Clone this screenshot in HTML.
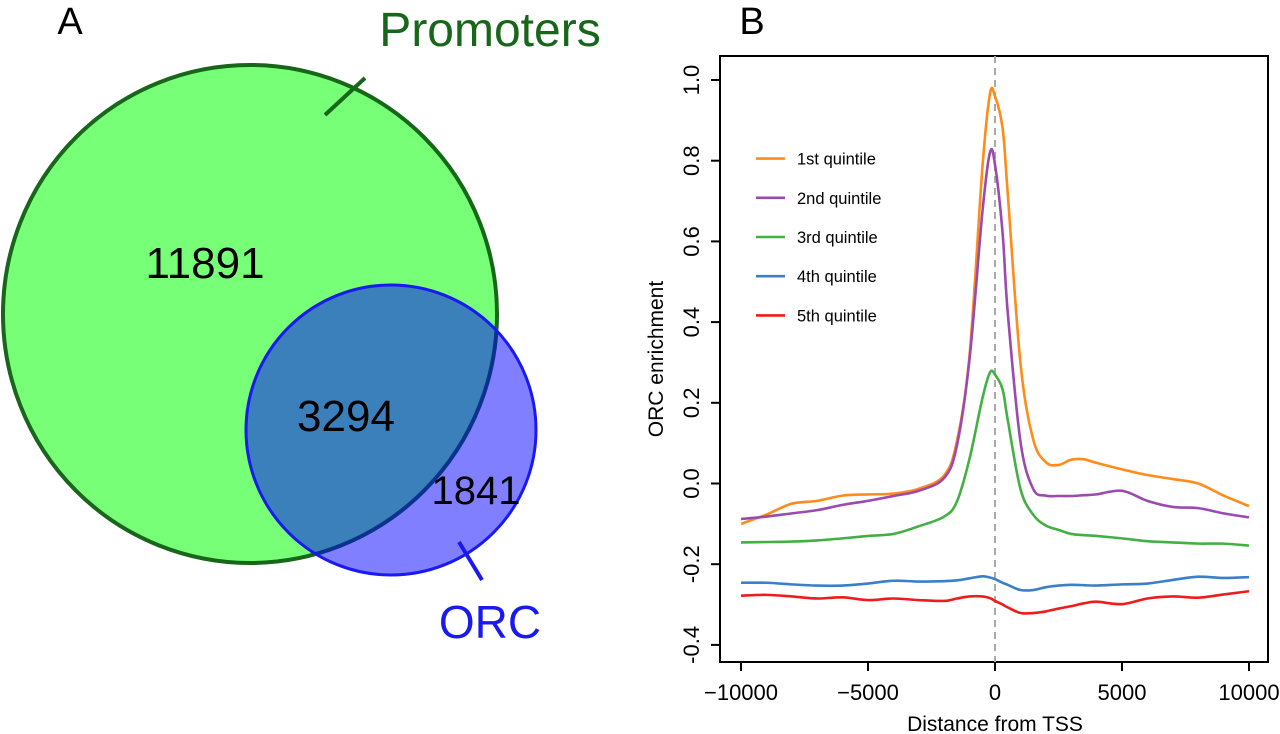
<!DOCTYPE html>
<html><head><meta charset="utf-8"><style>
body{margin:0;background:#fff;}
svg{display:block;font-family:"Liberation Sans",Arial,sans-serif;}
</style></head><body>
<svg id="fig" width="1280" height="734" viewBox="0 0 1280 734">
<g>
<text x="70" y="34" font-size="38" text-anchor="middle">A</text>
<ellipse cx="250" cy="314" rx="247" ry="249" fill="#77ff77" stroke="#17661a" stroke-width="4"/>
<circle cx="391" cy="430" r="145" fill="rgba(0,0,255,0.5)" stroke="#1a1aee" stroke-width="3"/>
<line x1="325" y1="115" x2="365" y2="78" stroke="#17661a" stroke-width="4"/>
<line x1="459" y1="542" x2="482" y2="580" stroke="#1a1aee" stroke-width="4"/>
<text x="490" y="46" font-size="48" fill="#17661a" text-anchor="middle">Promoters</text>
<text x="490" y="638" font-size="46" fill="#1a1aee" text-anchor="middle">ORC</text>
<text x="205" y="278" font-size="44" text-anchor="middle">11891</text>
<text x="346" y="431" font-size="44" text-anchor="middle">3294</text>
<text x="476" y="504" font-size="40" text-anchor="middle">1841</text>
</g>
<g id="chart">
<text x="752" y="34" font-size="38" text-anchor="middle">B</text>
</g>
</svg>
<script>
const xs=[-10000,-9000,-8000,-7000,-6000,-5000,-4000,-3000,-2000,-1500,-1000,-500,-200,0,300,500,1000,1500,2000,2500,3000,3500,4000,5000,6000,7000,8000,9000,10000];
const q1=[-0.10,-0.077,-0.05,-0.043,-0.03,-0.027,-0.025,-0.013,0.02,0.105,0.32,0.78,0.965,0.96,0.88,0.72,0.30,0.11,0.053,0.046,0.059,0.06,0.051,0.035,0.021,0.011,0,-0.03,-0.056];
const q2=[-0.088,-0.082,-0.074,-0.066,-0.053,-0.043,-0.031,-0.018,0.014,0.094,0.31,0.67,0.82,0.79,0.62,0.425,0.105,-0.013,-0.03,-0.031,-0.031,-0.029,-0.027,-0.018,-0.043,-0.058,-0.061,-0.074,-0.084];
const q3=[-0.146,-0.145,-0.144,-0.141,-0.136,-0.13,-0.125,-0.106,-0.082,-0.045,0.062,0.21,0.275,0.27,0.233,0.158,-0.013,-0.077,-0.104,-0.115,-0.125,-0.128,-0.13,-0.136,-0.143,-0.146,-0.149,-0.149,-0.154];
const q4=[-0.246,-0.246,-0.25,-0.253,-0.253,-0.248,-0.241,-0.243,-0.242,-0.24,-0.235,-0.23,-0.233,-0.237,-0.246,-0.251,-0.264,-0.264,-0.257,-0.253,-0.251,-0.252,-0.253,-0.25,-0.248,-0.239,-0.231,-0.234,-0.232];
const q5=[-0.278,-0.276,-0.28,-0.285,-0.282,-0.289,-0.285,-0.289,-0.291,-0.285,-0.28,-0.28,-0.284,-0.291,-0.30,-0.307,-0.321,-0.321,-0.317,-0.31,-0.304,-0.297,-0.293,-0.299,-0.285,-0.28,-0.283,-0.275,-0.267];
const seriesNames=["1st quintile","2nd quintile","3rd quintile","4th quintile","5th quintile"];
const seriesColors=["#ff8c1a","#9b4aae","#44b044","#3a80c8","#ee1c1c"];
const yTicks=[-0.4,-0.2,0.0,0.2,0.4,0.6,0.8,1.0];
const yTickLabels=["-0.4","-0.2","0.0","0.2","0.4","0.6","0.8","1.0"];
const xTicks=[-10000,-5000,0,5000,10000];
const xTickLabels=["\u221210000","\u22125000","0","5000","10000"];

const NS="http://www.w3.org/2000/svg";
const g=document.getElementById('chart');
const X=v=>995+v*0.0254;
const Y=v=>80+(1-v)*403.5;
function mk(t,a){const e=document.createElementNS(NS,t);for(const k in a)e.setAttribute(k,a[k]);g.appendChild(e);return e;}
const frame=mk('rect',{x:720,y:56,width:548,height:606,fill:'none',stroke:'#000','stroke-width':2});


const vl=mk('line',{x1:X(0),x2:X(0),y1:56,y2:662,stroke:'#aaa','stroke-width':2,'stroke-dasharray':'7,5'});


yTicks.forEach((v,i)=>{
 const t=mk('line',{x1:711,x2:720,y1:Y(v),y2:Y(v),stroke:'#000','stroke-width':2});
 
 
 const l=mk('text',{x:0,y:0,'font-size':22,'text-anchor':'middle',transform:`translate(699,${Y(v)}) rotate(-90)`});
 l.textContent=yTickLabels[i];
 
 
});
xTicks.forEach((v,i)=>{
 const t=mk('line',{x1:X(v),x2:X(v),y1:662,y2:671,stroke:'#000','stroke-width':2});
 
 
 const l=mk('text',{x:X(v),y:700,'font-size':22,'text-anchor':'middle'});
 l.textContent=xTickLabels[i];
 
 
});
const xt=mk('text',{x:X(0),y:731,'font-size':21,'text-anchor':'middle'});
xt.textContent='Distance from TSS';


const yt=mk('text',{x:0,y:0,'font-size':21,'text-anchor':'middle',transform:'translate(663,359) rotate(-90)'});
yt.textContent='ORC enrichment';


function smooth(pts){let d=`M${pts[0][0]},${pts[0][1]}`;for(let i=0;i<pts.length-1;i++){const p0=pts[i-1]||pts[i],p1=pts[i],p2=pts[i+1],p3=pts[i+2]||p2;const c1=[p1[0]+(p2[0]-p0[0])/6,p1[1]+(p2[1]-p0[1])/6],c2=[p2[0]-(p3[0]-p1[0])/6,p2[1]-(p3[1]-p1[1])/6];d+=` C${c1[0]},${c1[1]} ${c2[0]},${c2[1]} ${p2[0]},${p2[1]}`;}return d;}
[q1,q2,q3,q4,q5].forEach((s,k)=>{
 const p=mk('path',{d:smooth(xs.map((x,i)=>[X(x),Y(s[i])])),fill:'none',stroke:seriesColors[k],'stroke-width':2.6});
 
 
 const ly=158.6+k*39.2;
 const ll=mk('line',{x1:756,x2:785,y1:ly,y2:ly,stroke:seriesColors[k],'stroke-width':2.6});
 
 
 const lt=mk('text',{x:797,y:ly+6,'font-size':16.5});
 lt.textContent=seriesNames[k];
 
 
});
</script>
</body></html>
